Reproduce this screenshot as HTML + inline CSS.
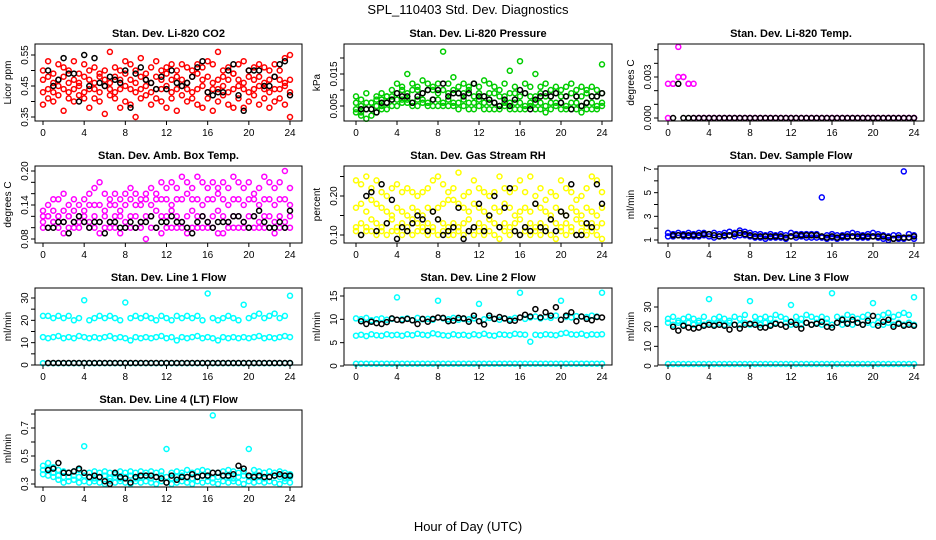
<!DOCTYPE html>
<html><head><meta charset="utf-8">
<style>
html,body{margin:0;padding:0;background:#fff;}
svg{display:block;font-family:"Liberation Sans",Arial,sans-serif;}
</style></head>
<body>
<svg id="chart" width="936" height="540" viewBox="0 0 936 540">
<rect x="0" y="0" width="936" height="540" fill="#fff"/>
<text x="468" y="14" font-size="13" text-anchor="middle">SPL_110403  Std. Dev. Diagnostics</text>
<text x="468" y="531" font-size="13" text-anchor="middle">Hour of Day (UTC)</text>
</svg>
<script>
const xTicks=[0,4,8,12,16,20,24];
// CO2
const co2A=[0.50,0.53,0.49,0.52,0.51,0.50,0.53,0.49,0.52,0.50,0.51,0.49,0.50,0.56,0.51,0.50,0.53,0.52,0.50,0.54,0.49,0.51,0.53,0.50,0.51,0.52,0.50,0.52,0.51,0.50,0.52,0.51,0.53,0.52,0.56,0.50,0.51,0.49,0.52,0.53,0.50,0.51,0.52,0.51,0.50,0.52,0.50,0.54,0.55];
const co2B=[0.47,0.48,0.46,0.47,0.48,0.46,0.47,0.46,0.48,0.47,0.46,0.48,0.47,0.46,0.48,0.47,0.49,0.47,0.46,0.48,0.47,0.46,0.48,0.47,0.49,0.47,0.48,0.47,0.46,0.48,0.49,0.47,0.48,0.46,0.47,0.48,0.47,0.49,0.47,0.46,0.48,0.47,0.48,0.46,0.47,0.48,0.47,0.46,0.47];
const co2C=[0.43,0.44,0.43,0.45,0.44,0.43,0.44,0.45,0.43,0.44,0.44,0.43,0.45,0.44,0.43,0.44,0.45,0.44,0.43,0.44,0.45,0.43,0.44,0.44,0.45,0.43,0.44,0.45,0.44,0.43,0.44,0.45,0.43,0.44,0.44,0.45,0.43,0.44,0.45,0.44,0.43,0.44,0.45,0.44,0.43,0.44,0.44,0.45,0.43];
const co2D=[0.39,0.41,0.40,0.42,0.37,0.41,0.40,0.42,0.41,0.38,0.41,0.40,0.36,0.42,0.41,0.38,0.40,0.39,0.35,0.41,0.42,0.39,0.41,0.40,0.38,0.41,0.37,0.42,0.40,0.41,0.39,0.38,0.41,0.37,0.40,0.42,0.39,0.38,0.41,0.38,0.40,0.42,0.39,0.41,0.38,0.40,0.41,0.39,0.35];
const co2K=[0.50,0.45,0.47,0.54,0.49,0.49,0.40,0.55,0.45,0.54,0.46,0.45,0.48,0.47,0.46,0.50,0.38,0.49,0.51,0.47,0.46,0.44,0.48,0.44,0.50,0.46,0.45,0.46,0.48,0.51,0.53,0.43,0.42,0.43,0.43,0.50,0.52,0.42,0.37,0.50,0.50,0.50,0.45,0.45,0.48,0.52,0.53,0.42];
// Pressure
const prA=[0.008,0.007,0.009,0.006,0.008,0.009,0.008,0.010,0.012,0.011,0.015,0.012,0.011,0.013,0.012,0.011,0.012,0.022,0.012,0.014,0.011,0.012,0.011,0.012,0.011,0.013,0.012,0.011,0.010,0.012,0.016,0.011,0.019,0.012,0.011,0.015,0.011,0.012,0.010,0.011,0.010,0.011,0.012,0.010,0.011,0.010,0.011,0.010,0.018];
const prB=[0.006,0.005,0.006,0.006,0.007,0.007,0.008,0.008,0.009,0.010,0.009,0.010,0.010,0.009,0.010,0.010,0.009,0.010,0.009,0.010,0.009,0.009,0.010,0.008,0.009,0.008,0.009,0.009,0.008,0.008,0.009,0.009,0.008,0.009,0.008,0.008,0.009,0.008,0.008,0.009,0.008,0.008,0.009,0.008,0.008,0.009,0.008,0.008,0.009];
const prC=[0.004,0.003,0.004,0.004,0.005,0.005,0.006,0.007,0.007,0.007,0.007,0.006,0.007,0.007,0.006,0.007,0.007,0.006,0.007,0.006,0.006,0.007,0.006,0.006,0.007,0.006,0.006,0.006,0.005,0.006,0.006,0.006,0.006,0.005,0.006,0.006,0.006,0.005,0.006,0.006,0.006,0.005,0.006,0.006,0.005,0.006,0.006,0.005,0.006];
const prD=[0.003,0.002,0.001,0.002,0.003,0.004,0.004,0.005,0.005,0.006,0.006,0.005,0.005,0.006,0.005,0.005,0.005,0.005,0.005,0.005,0.004,0.005,0.004,0.004,0.005,0.004,0.004,0.004,0.004,0.005,0.004,0.004,0.004,0.004,0.005,0.004,0.004,0.003,0.004,0.005,0.004,0.004,0.004,0.004,0.003,0.004,0.004,0.004,0.005];
const prK=[0.004,0.004,0.004,0.003,0.006,0.006,0.007,0.009,0.008,0.008,0.006,0.008,0.009,0.010,0.007,0.010,0.012,0.008,0.009,0.009,0.008,0.009,0.012,0.008,0.008,0.007,0.006,0.005,0.007,0.005,0.007,0.010,0.009,0.004,0.007,0.008,0.009,0.008,0.009,0.006,0.008,0.004,0.008,0.005,0.006,0.008,0.008,0.009];
// Li-820 temp
const ltA=[0.0025,0.0025,0.0052,0.0030,0.0025,0.0025,0,0,0,0,0,0,0,0,0,0,0,0,0,0,0,0,0,0,0,0,0,0,0,0,0,0,0,0,0,0,0,0,0,0,0,0,0,0,0,0,0,0,0];
const ltB=[0,0.0025,0.0030,0.0030,0.0025,0,0,0,0,0,0,0,0,0,0,0,0,0,0,0,0,0,0,0,0,0,0,0,0,0,0,0,0,0,0,0,0,0,0,0,0,0,0,0,0,0,0,0,0];
const ltK=[0,0.0025,0,0,0,0,0,0,0,0,0,0,0,0,0,0,0,0,0,0,0,0,0,0,0,0,0,0,0,0,0,0,0,0,0,0,0,0,0,0,0,0,0,0,0,0,0,0];
// Amb box temp
const btA=[0.13,0.14,0.15,0.15,0.16,0.14,0.15,0.14,0.15,0.16,0.17,0.18,0.16,0.15,0.16,0.15,0.16,0.17,0.16,0.15,0.16,0.17,0.16,0.18,0.17,0.18,0.17,0.19,0.18,0.17,0.19,0.18,0.17,0.18,0.17,0.18,0.17,0.19,0.18,0.17,0.18,0.16,0.17,0.19,0.18,0.17,0.18,0.20,0.17];
const btB=[0.12,0.12,0.13,0.12,0.13,0.12,0.13,0.12,0.13,0.14,0.14,0.14,0.13,0.14,0.14,0.13,0.14,0.15,0.14,0.14,0.15,0.14,0.15,0.15,0.15,0.14,0.15,0.15,0.16,0.15,0.15,0.14,0.15,0.15,0.16,0.15,0.14,0.15,0.15,0.14,0.15,0.15,0.14,0.15,0.15,0.14,0.15,0.15,0.14];
const btC=[0.11,0.12,0.11,0.12,0.11,0.12,0.11,0.11,0.12,0.11,0.12,0.11,0.12,0.11,0.12,0.12,0.11,0.12,0.12,0.11,0.12,0.12,0.13,0.12,0.12,0.13,0.12,0.11,0.12,0.13,0.12,0.12,0.11,0.12,0.13,0.12,0.11,0.12,0.12,0.11,0.12,0.12,0.11,0.12,0.12,0.11,0.12,0.11,0.12];
const btD=[0.10,0.10,0.11,0.10,0.09,0.10,0.10,0.10,0.11,0.10,0.10,0.09,0.10,0.10,0.10,0.09,0.10,0.10,0.10,0.10,0.08,0.10,0.10,0.09,0.10,0.10,0.10,0.10,0.09,0.10,0.10,0.10,0.10,0.10,0.09,0.09,0.10,0.10,0.10,0.10,0.10,0.10,0.10,0.10,0.10,0.09,0.10,0.10,0.10];
const btK=[0.10,0.10,0.11,0.11,0.09,0.11,0.12,0.11,0.10,0.11,0.11,0.09,0.11,0.11,0.10,0.10,0.11,0.10,0.11,0.11,0.12,0.10,0.11,0.11,0.12,0.11,0.11,0.10,0.09,0.11,0.12,0.11,0.10,0.11,0.11,0.11,0.12,0.12,0.11,0.10,0.12,0.13,0.11,0.10,0.10,0.11,0.10,0.13];
// Gas stream RH
const rhA=[0.24,0.23,0.25,0.22,0.24,0.21,0.20,0.22,0.23,0.21,0.22,0.21,0.20,0.21,0.22,0.24,0.25,0.23,0.21,0.22,0.26,0.20,0.21,0.24,0.22,0.21,0.20,0.21,0.25,0.22,0.21,0.22,0.24,0.21,0.25,0.20,0.22,0.19,0.21,0.20,0.24,0.22,0.21,0.19,0.20,0.22,0.25,0.24,0.21];
const rhB=[0.17,0.18,0.16,0.19,0.18,0.17,0.16,0.15,0.17,0.16,0.15,0.17,0.16,0.15,0.17,0.16,0.17,0.18,0.19,0.19,0.18,0.17,0.16,0.18,0.17,0.16,0.15,0.17,0.16,0.18,0.17,0.15,0.16,0.17,0.16,0.18,0.17,0.16,0.15,0.17,0.16,0.15,0.17,0.16,0.15,0.17,0.16,0.15,0.17];
const rhC=[0.12,0.13,0.12,0.14,0.13,0.12,0.13,0.14,0.12,0.13,0.12,0.14,0.13,0.12,0.13,0.12,0.14,0.13,0.12,0.13,0.12,0.13,0.14,0.12,0.13,0.12,0.14,0.13,0.12,0.13,0.12,0.13,0.14,0.12,0.13,0.12,0.13,0.12,0.14,0.13,0.12,0.13,0.12,0.14,0.13,0.12,0.13,0.12,0.13];
const rhD=[0.11,0.10,0.11,0.11,0.10,0.11,0.10,0.11,0.11,0.10,0.11,0.10,0.11,0.11,0.10,0.11,0.10,0.11,0.10,0.10,0.11,0.10,0.11,0.10,0.11,0.10,0.11,0.10,0.09,0.11,0.10,0.11,0.10,0.11,0.10,0.11,0.10,0.11,0.10,0.09,0.11,0.10,0.11,0.10,0.11,0.10,0.11,0.10,0.09];
const rhK=[0.10,0.20,0.21,0.11,0.23,0.13,0.19,0.09,0.12,0.11,0.13,0.15,0.14,0.11,0.16,0.14,0.10,0.11,0.12,0.17,0.09,0.11,0.12,0.18,0.11,0.15,0.20,0.12,0.17,0.22,0.11,0.10,0.12,0.11,0.18,0.12,0.11,0.14,0.11,0.16,0.15,0.23,0.10,0.10,0.13,0.12,0.23,0.18];
// Sample flow
const sfA=[1.6,1.5,1.6,1.5,1.6,1.5,1.6,1.6,1.5,1.6,1.5,1.6,1.7,1.6,1.8,1.7,1.6,1.5,1.5,1.4,1.5,1.4,1.5,1.4,1.6,1.5,1.5,1.5,1.5,1.5,4.6,1.4,1.5,1.4,1.4,1.5,1.6,1.5,1.4,1.5,1.6,1.5,1.4,1.3,1.4,1.4,6.8,1.5,1.4];
const sfB=[1.3,1.3,1.4,1.3,1.3,1.3,1.3,1.4,1.3,1.2,1.3,1.3,1.4,1.3,1.4,1.4,1.3,1.2,1.2,1.1,1.2,1.2,1.2,1.1,1.3,1.2,1.3,1.2,1.2,1.2,1.2,1.1,1.2,1.1,1.2,1.2,1.3,1.2,1.2,1.2,1.3,1.2,1.1,1.0,1.1,1.1,1.1,1.2,1.1];
const sfK=[1.4,1.4,1.4,1.4,1.4,1.4,1.5,1.5,1.4,1.3,1.4,1.4,1.5,1.6,1.5,1.4,1.3,1.3,1.3,1.3,1.3,1.3,1.2,1.3,1.4,1.4,1.4,1.4,1.4,1.3,1.2,1.3,1.2,1.3,1.3,1.3,1.3,1.3,1.3,1.3,1.3,1.3,1.2,1.1,1.2,1.2,1.2,1.3];
// Line 1
const l1A=[22,22,21,22,21,22,20,21,29,20,21,22,21,22,21,20,28,21,22,21,22,21,20,22,21,20,22,21,22,21,22,20,32,21,20,21,22,21,20,27,21,22,23,21,22,23,21,22,31];
const l1B=[12.5,12,12.5,13,12,12.5,12,13,12.5,12,12.5,12,12.5,13,12,12.5,12,11,12.5,12,12.5,12,12.5,13,12,12.5,11,12.5,12,12.5,13,12,12.5,12,11,12.5,12,12.5,12,12.5,12,12.5,13,12,12.5,12,12.5,13,12.5];
const l1C=[0.8,0.8,0.8,0.8,0.8,0.8,0.8,0.8,0.8,0.8,0.8,0.8,0.8,0.8,0.8,0.8,0.8,0.8,0.8,0.8,0.8,0.8,0.8,0.8,0.8,0.8,0.8,0.8,0.8,0.8,0.8,0.8,0.8,0.8,0.8,0.8,0.8,0.8,0.8,0.8,0.8,0.8,0.8,0.8,0.8,0.8,0.8,0.8,0.8];
const l1K=[0.9,0.9,0.9,0.9,0.9,0.9,0.9,0.9,0.9,0.9,0.9,0.9,0.9,0.9,0.9,0.9,0.9,0.9,0.9,0.9,0.9,0.9,0.9,0.9,0.9,0.9,0.9,0.9,0.9,0.9,0.9,0.9,0.9,0.9,0.9,0.9,0.9,0.9,0.9,0.9,0.9,0.9,0.9,0.9,0.9,0.9,0.9,0.9];
// Line 2
const l2A=[10.2,10,10.3,9.8,10,10.2,9.9,10.1,14.7,10,10.2,9.8,10.3,10,10.1,9.9,14,10.2,10,10.3,9.9,10.1,10,10.2,13.3,10,10.3,10.1,9.9,10.2,10,10.3,15.7,10.1,10.4,10.6,10.2,10.5,10.3,10.8,14,10.5,10.4,10.7,10.6,10.5,10.8,10.6,15.7];
const l2B=[6.5,6.7,6.4,6.8,6.6,6.5,6.8,6.6,6.7,6.5,6.8,6.6,6.9,6.7,6.6,7,6.8,6.6,6.5,6.8,6.6,6.7,6.5,6.8,6.6,6.9,6.6,6.5,6.8,6.7,6.6,6.9,6.8,6.7,5.2,6.7,6.6,6.8,6.7,6.6,6.9,7.1,6.8,6.7,6.9,6.6,6.8,6.7,6.8];
const l2C=[0.5,0.5,0.5,0.5,0.5,0.5,0.5,0.5,0.5,0.5,0.5,0.5,0.5,0.5,0.5,0.5,0.5,0.5,0.5,0.5,0.5,0.5,0.5,0.5,0.5,0.5,0.5,0.5,0.5,0.5,0.5,0.5,0.5,0.5,0.5,0.5,0.5,0.5,0.5,0.5,0.5,0.5,0.5,0.5,0.5,0.5,0.5,0.5,0.5];
const l2K=[9.6,9,9.5,9.2,9,9.4,10.2,9.9,9.8,10.1,9.8,9,10.1,9.5,10.1,10.4,10.3,9.6,9.7,10.3,10.2,9.5,10.8,9.6,8.9,10.8,10.1,10.5,10.2,9.7,9.7,10.4,11,10.6,12.2,10.4,11.5,10.8,12.6,9.9,10.8,11.5,9.6,10.6,10.1,9.8,10.5,10.4];
// Line 3
const l3A=[24,25,23,24,25,24,23,25,34,24,25,24,23,25,24,26,33,25,24,25,24,26,25,24,31,25,24,26,25,24,25,24,37,25,24,26,25,24,25,26,32,25,26,27,25,26,27,26,35];
const l3B=[22,21,22,21,22,21,22,21,22,21,22,21,22,21,21,22,21,22,21,22,21,22,21,22,21,22,21,22,21,22,21,22,21,22,21,22,21,22,21,22,21,22,21,22,21,22,21,22,21];
const l3C=[1,1,1,1,1,1,1,1,1,1,1,1,1,1,1,1,1,1,1,1,1,1,1,1,1,1,1,1,1,1,1,1,1,1,1,1,1,1,1,1,1,1,1,1,1,1,1,1,1];
const l3K=[20,18,20.5,19.5,19,19.5,20.5,21,20.5,21,20.5,18.5,21,19,21,21.5,21,19.5,19.5,20.5,21.5,21,20,22.5,21,19,22,21,21.5,22.5,20,19.5,22,23.5,21.5,23.5,22,21,23,25.5,20.5,22.5,23.5,20,21.5,20.5,21,20.5];
// Line 4
const l4A=[0.43,0.45,0.42,0.40,0.39,0.38,0.39,0.40,0.57,0.38,0.39,0.38,0.39,0.38,0.37,0.39,0.38,0.39,0.38,0.39,0.38,0.39,0.38,0.39,0.55,0.38,0.39,0.38,0.40,0.38,0.39,0.40,0.39,0.79,0.38,0.39,0.40,0.39,0.38,0.39,0.55,0.40,0.39,0.38,0.39,0.38,0.39,0.38,0.37];
const l4B=[0.40,0.41,0.38,0.36,0.35,0.35,0.36,0.35,0.36,0.35,0.34,0.35,0.36,0.34,0.35,0.34,0.35,0.36,0.34,0.35,0.36,0.34,0.35,0.36,0.35,0.34,0.35,0.36,0.35,0.34,0.35,0.36,0.35,0.34,0.35,0.36,0.35,0.34,0.35,0.36,0.35,0.36,0.35,0.34,0.35,0.36,0.35,0.34,0.35];
const l4C=[0.37,0.36,0.35,0.33,0.31,0.32,0.33,0.31,0.32,0.31,0.32,0.31,0.30,0.32,0.31,0.32,0.31,0.30,0.32,0.31,0.32,0.31,0.30,0.32,0.31,0.30,0.31,0.32,0.31,0.30,0.32,0.31,0.32,0.31,0.30,0.32,0.31,0.32,0.31,0.30,0.32,0.31,0.32,0.31,0.32,0.31,0.30,0.32,0.31];
const l4K=[0.40,0.41,0.45,0.38,0.38,0.39,0.41,0.38,0.35,0.36,0.35,0.32,0.30,0.38,0.35,0.34,0.31,0.35,0.36,0.36,0.36,0.35,0.34,0.31,0.36,0.33,0.35,0.35,0.37,0.35,0.36,0.36,0.38,0.38,0.36,0.36,0.37,0.43,0.41,0.36,0.35,0.36,0.35,0.35,0.36,0.37,0.36,0.36];

const NS='http://www.w3.org/2000/svg';
const svg=document.getElementById('chart');
function mk(tag,attrs,parent){const e=document.createElementNS(NS,tag);for(const k in attrs)e.setAttribute(k,attrs[k]);(parent||svg).appendChild(e);return e;}

const cols=[{l:35,r:302,x0:43,x1:290},{l:344,r:612,x0:356,x1:602},{l:658,r:924,x0:668,x1:914}];
const rows=[44,166,288,410];
const H=77;

const panels=[
 {key:'co2',title:'Stan. Dev. Li-820 CO2',ylab:'Licor ppm',c:0,r:0,ymin:0.35,ymax:0.55,yTicks:[0.35,0.40,0.45,0.50,0.55],yLab:[0.35,0.45,0.55],dig:2,col:'#ff0000',series:[co2A,co2B,co2C,co2D],blk:co2K},
 {key:'pressure',title:'Stan. Dev. Li-820 Pressure',ylab:'kPa',c:1,r:0,ymin:0.005,ymax:0.015,yTicks:[0.005,0.010,0.015,0.020],yLab:[0.005,0.015],dig:3,col:'#00cd00',series:[prA,prB,prC,prD],blk:prK},
 {key:'li820-temp',title:'Stan. Dev. Li-820 Temp.',ylab:'degrees C',c:2,r:0,ymin:0,ymax:0.003,yTicks:[0,0.001,0.002,0.003,0.004,0.005],yLab:[0,0.003],dig:3,col:'#ff00ff',series:[ltA,ltB],blk:ltK},
 {key:'box-temp',title:'Stan. Dev. Amb. Box Temp.',ylab:'degrees C',c:0,r:1,ymin:0.08,ymax:0.20,yTicks:[0.08,0.10,0.12,0.14,0.16,0.18,0.20],yLab:[0.08,0.14,0.20],dig:2,col:'#ff00ff',series:[btA,btB,btC,btD],blk:btK},
 {key:'rh',title:'Stan. Dev. Gas Stream RH',ylab:'percent',c:1,r:1,ymin:0.10,ymax:0.20,yTicks:[0.10,0.15,0.20,0.25],yLab:[0.10,0.20],dig:2,col:'#ffff00',series:[rhA,rhB,rhC,rhD],blk:rhK},
 {key:'sample-flow',title:'Stan. Dev. Sample Flow',ylab:'ml/min',c:2,r:1,ymin:1,ymax:7,yTicks:[1,2,3,4,5,6,7],yLab:[1,3,5,7],dig:0,col:'#0000ff',series:[sfA,sfB],blk:sfK},
 {key:'line1',title:'Stan. Dev. Line 1 Flow',ylab:'ml/min',c:0,r:2,ymin:0,ymax:30,yTicks:[0,5,10,15,20,25,30],yLab:[0,10,20,30],dig:0,col:'#00ffff',series:[l1A,l1B,l1C],blk:l1K},
 {key:'line2',title:'Stan. Dev. Line 2 Flow',ylab:'ml/min',c:1,r:2,ymin:0,ymax:15,yTicks:[0,5,10,15],yLab:[0,5,10,15],dig:0,col:'#00ffff',series:[l2A,l2B,l2C],blk:l2K},
 {key:'line3',title:'Stan. Dev. Line 3 Flow',ylab:'ml/min',c:2,r:2,ymin:0,ymax:30,yTicks:[0,10,20,30],yLab:[0,10,20,30],dig:0,col:'#00ffff',series:[l3A,l3B,l3C],blk:l3K},
 {key:'line4',title:'Stan. Dev. Line 4 (LT) Flow',ylab:'ml/min',c:0,r:3,ymin:0.3,ymax:0.7,yTicks:[0.3,0.4,0.5,0.6,0.7,0.8],yLab:[0.3,0.5,0.7],dig:1,col:'#00ffff',series:[l4A,l4B,l4C],blk:l4K}
];
// pixel anchors for ymin/ymax per panel (layout, not data)
const yPix={co2:[117,55],pressure:[106,74],'li820-temp':[118,77],'box-temp':[239,171],rh:[235,196],'sample-flow':[240,169],line1:[365,298],line2:[366,296],line3:[366,307],line4:[484,428]};

panels.forEach(p=>{
 const C=cols[p.c],top=rows[p.r],bot=top+H;
 const g=mk('g',{});
 
 
 const [py0,py1]=yPix[p.key];
 const xs=t=>C.x0+(C.x1-C.x0)*t/24;
 const ys=v=>py0+(py1-py0)*(v-p.ymin)/(p.ymax-p.ymin);
 const tt=mk('text',{x:(C.l+C.r)/2,y:top-7,'font-size':11,'font-weight':'bold','text-anchor':'middle'},g);
 tt.textContent=p.title;
 
 
 // points
 const pg=mk('g',{fill:'none','stroke-width':1.5},g);
 
 
 p.series.forEach(arr=>{arr.forEach((v,i)=>{
   const c=mk('circle',{cx:xs(i*0.5).toFixed(1),cy:ys(v).toFixed(1),r:2.5,stroke:p.col},pg);
   
   
 });});
 p.blk.forEach((v,i)=>{
   const c=mk('circle',{cx:xs(0.5+i*0.5-0.25+0.25).toFixed(1),cy:ys(v).toFixed(1),r:2.5,stroke:'#000'},pg);
   
   
 });
 // box
 const b=mk('rect',{x:C.l,y:top,width:C.r-C.l,height:H,fill:'none',stroke:'#000','stroke-width':1},g);
 
 
 // x axis
 const xa=mk('g',{},g);
 
 
 xTicks.forEach(t=>{
  const x=xs(t);
  mk('line',{x1:x,y1:bot,x2:x,y2:bot+4,stroke:'#000'},xa);
  const tx=mk('text',{x:x,y:bot+15,'font-size':10,'text-anchor':'middle'},xa);
  tx.textContent=t;
  
  
 });
 // y axis
 const ya=mk('g',{},g);
 
 
 p.yTicks.forEach(v=>{const y=ys(v);mk('line',{x1:C.l-4,y1:y,x2:C.l,y2:y,stroke:'#000'},ya);});
 p.yLab.forEach(v=>{
  const y=ys(v),x=C.l-7;
  const tx=mk('text',{x:x,y:y,'font-size':10,'text-anchor':'middle',transform:`rotate(-90 ${x} ${y})`},ya);
  tx.textContent=v.toFixed(p.dig);
  
  
 });
 const yt=mk('text',{x:C.l-24,y:top+H/2,'font-size':10,'text-anchor':'middle',transform:`rotate(-90 ${C.l-24} ${top+H/2})`},g);
 yt.textContent=p.ylab;
 
 
});
</script>
</body></html>
